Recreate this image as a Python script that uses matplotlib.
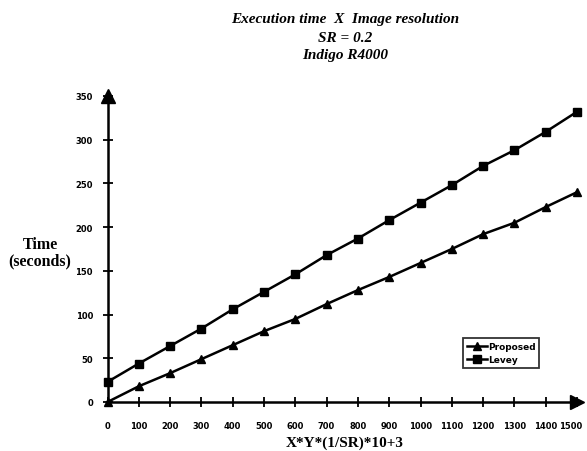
import matplotlib.pyplot as plt
import matplotlib.transforms as mtransforms

# dados
x_vals = [0, 100, 200, 300, 400, 500, 600, 700, 800, 900, 1000, 1100, 1200, 1300, 1400, 1500]
proposed = [0, 18, 33, 49, 65, 81, 95, 112, 128, 143, 159, 175, 192, 205, 223, 240]
levey = [23, 44, 64, 84, 106, 126, 146, 168, 187, 208, 228, 248, 270, 288, 309, 332]
y_ticks = [0, 50, 100, 150, 200, 250, 300, 350]

W, H = 587, 452
fig = plt.figure(figsize=(W / 100, H / 100), dpi=100)
ax = fig.add_axes([107.5 / W, 49 / H, 469.5 / W, 306 / H])

ax.plot(x_vals, proposed, color='black', lw=1.8, marker='^', ms=6, label='Proposed', clip_on=False, zorder=3)
ax.plot(x_vals, levey, color='black', lw=1.8, marker='s', ms=5.5, label='Levey', clip_on=False, zorder=3)

ax.set_xlim(0, 1500)
ax.set_ylim(0, 350)
ax.set_xticks(x_vals)
ax.set_yticks(y_ticks)
ax.set_xticklabels([str(v) for v in x_vals], fontsize=6, fontweight='heavy')
ax.set_yticklabels([str(v) for v in y_ticks], fontsize=6, fontweight='heavy')
ax.tick_params(direction='inout', length=7, width=1.3)
ax.tick_params(axis='x', pad=10)
ax.tick_params(axis='y', pad=7)

# o último rótulo fica colado na borda: puxa um pouco para a esquerda
ultimo = ax.get_xticklabels()[-1]
ultimo.set_transform(ultimo.get_transform() + mtransforms.ScaledTranslation(-0.06, 0, fig.dpi_scale_trans))

for s in ['top', 'right']:
    ax.spines[s].set_visible(False)
for s in ['left', 'bottom']:
    ax.spines[s].set_linewidth(1.8)

# setas nas pontas dos eixos
ax.plot(1, 0, '>k', ms=10, transform=ax.get_yaxis_transform(), clip_on=False, zorder=4)
ax.plot(0, 1, '^k', ms=10, transform=ax.get_xaxis_transform(), clip_on=False, zorder=4)

serif = 'Liberation Serif'
fig.text(345 / W, 1 - 443 / H, 'X*Y*(1/SR)*10+3', ha='center', va='center',
         fontsize=11, fontweight='bold', family=serif)
fig.text(40 / W, 1 - 253 / H, 'Time\n(seconds)', ha='center', va='center', fontsize=11.5,
         fontweight='bold', family=serif, linespacing=1.05)

titulo = ['Execution time  X  Image resolution', 'SR = 0.2', 'Indigo R4000']
for linha, yp in zip(titulo, [20, 38, 55]):
    fig.text(345 / W, 1 - yp / H, linha, ha='center', va='center', fontsize=11,
             fontweight='bold', style='italic', family=serif)

leg = ax.legend(loc='upper left', bbox_to_anchor=(0.757, 0.209),
                prop={'weight': 'heavy', 'size': 6.5}, frameon=True, fancybox=False,
                edgecolor='black', handlelength=2.2, handletextpad=0.1,
                borderpad=0.45, labelspacing=0.45, borderaxespad=0)
leg.get_frame().set_linewidth(1.3)

fig.savefig('out.png', dpi=100)
